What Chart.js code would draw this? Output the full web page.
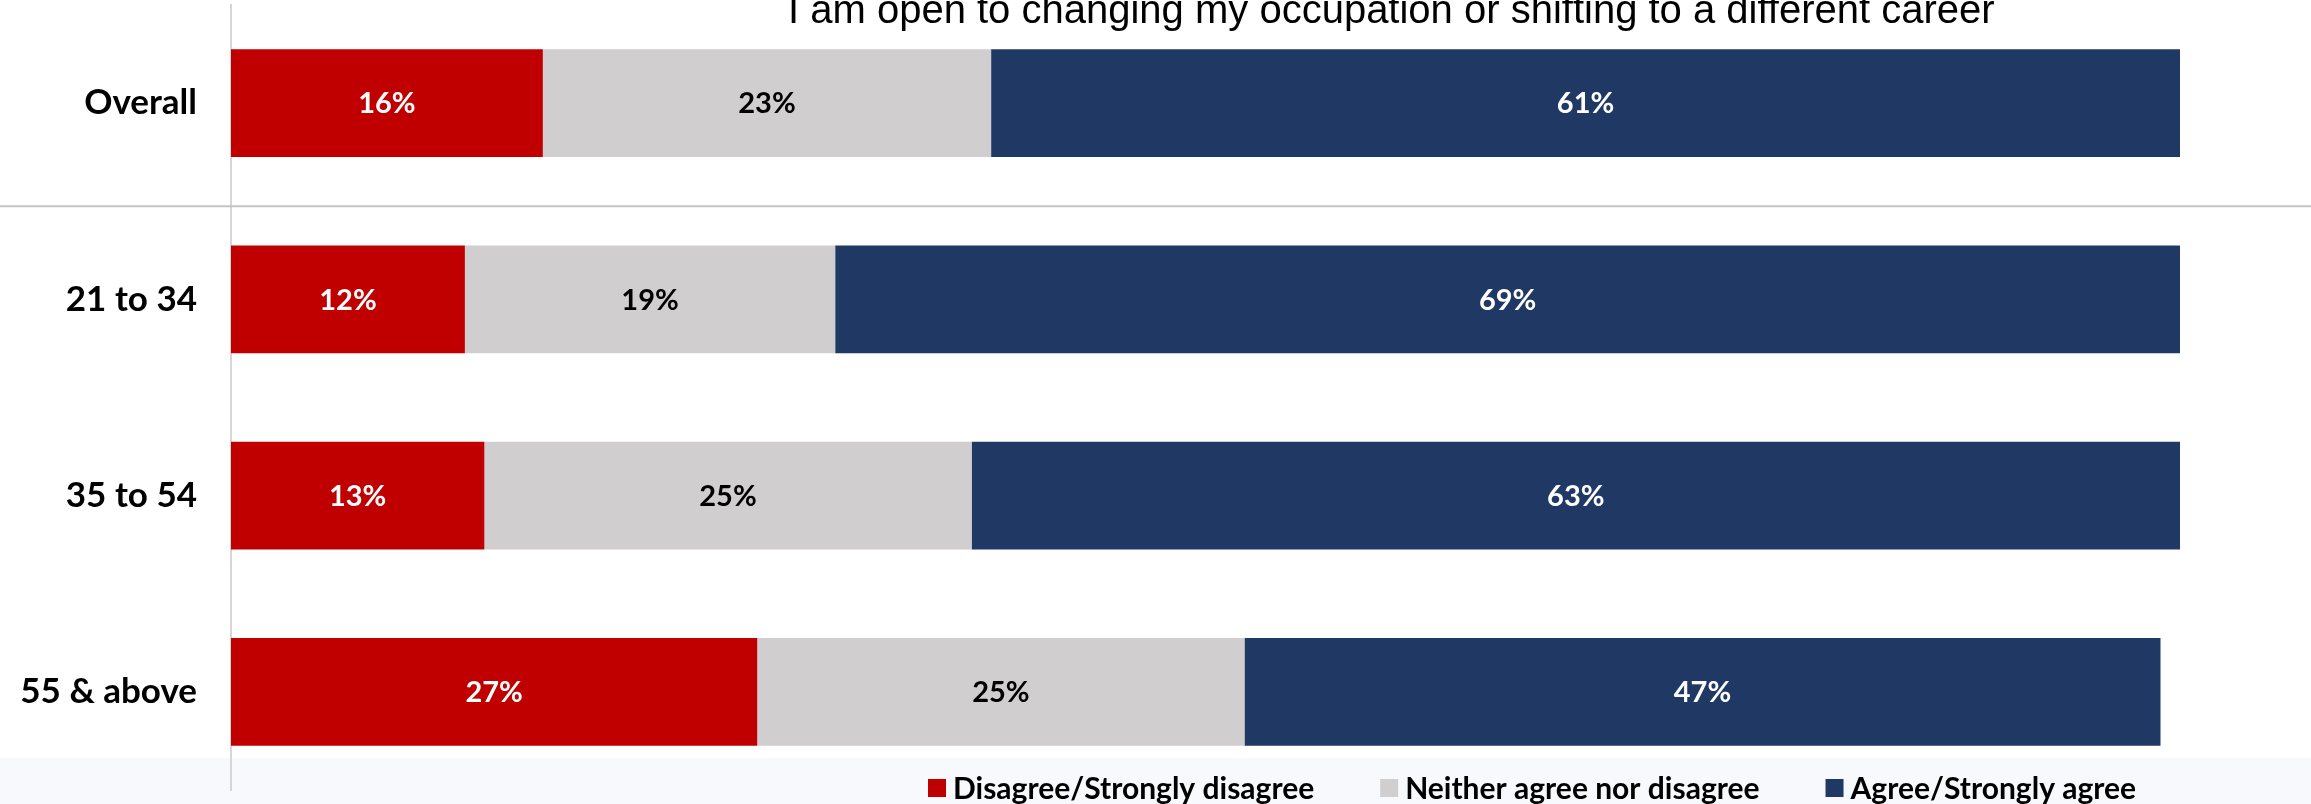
<!DOCTYPE html>
<html>
<head>
<meta charset="utf-8">
<title>Open to changing occupation</title>
<script src="https://cdn.jsdelivr.net/npm/chart.js@4.4.1/dist/chart.umd.min.js"></script>
<style>
  html, body { margin: 0; padding: 0; background: #fff; }
  #chart { display: block; }
</style>
</head>
<body>
<canvas id="chart" width="2311" height="804"></canvas>
<script>
// survey groups and answer shares (%)
const groups = ['Overall', '21 to 34', '35 to 54', '55 & above'];
const disagree = [16, 12, 13, 27];
const neither = [23, 19, 25, 25];
const agree = [61, 69, 63, 47];

const seriesNames = ['Disagree/Strongly disagree', 'Neither agree nor disagree', 'Agree/Strongly agree'];
const seriesColors = ['#c00000', '#d0cece', '#203864'];
const labelColors = ['#ffffff', '#000000', '#ffffff'];

const title = 'I am open to changing my occupation or shifting to a different career';

const LABEL_FONT = 'Lato, "Open Sans", sans-serif';

// pale band behind the legend row
const bandPlugin = {
  id: 'band',
  beforeDraw(chart) {
    const ctx = chart.ctx;
    ctx.save();
    ctx.fillStyle = '#f8f9fc';
    ctx.fillRect(0, 758, chart.width, chart.height - 758);
    ctx.restore();
  }
};

// line separating the overall row from the age groups
const separatorPlugin = {
  id: 'separator',
  afterDatasetsDraw(chart) {
    const y = chart.scales.y;
    const pos = (y.getPixelForValue(0) + y.getPixelForValue(1)) / 2 + 5;
    const ctx = chart.ctx;
    ctx.save();
    ctx.strokeStyle = '#c4c4c4';
    ctx.lineWidth = 2;
    ctx.beginPath();
    ctx.moveTo(0, pos);
    ctx.lineTo(chart.width, pos);
    ctx.stroke();
    ctx.restore();
  }
};

// percentage in the middle of every segment
const valueLabels = {
  id: 'valueLabels',
  afterDatasetsDraw(chart) {
    const ctx = chart.ctx;
    ctx.save();
    ctx.font = 'bold 29px ' + LABEL_FONT;
    ctx.textAlign = 'center';
    ctx.textBaseline = 'middle';
    chart.data.datasets.forEach((ds, i) => {
      const meta = chart.getDatasetMeta(i);
      ctx.fillStyle = labelColors[i];
      meta.data.forEach((bar, j) => {
        const cx = (bar.base + Math.min(bar.x, chart.chartArea.right)) / 2;
        ctx.fillText(ds.data[j] + '%', cx, bar.y + 1);
      });
    });
    ctx.restore();
  }
};

// title line and legend row
const textPlugin = {
  id: 'texts',
  afterDraw(chart) {
    const ctx = chart.ctx;
    ctx.save();
    ctx.fillStyle = '#000';
    ctx.font = '40px "Liberation Sans", Arial, sans-serif';
    ctx.textBaseline = 'alphabetic';
    ctx.textAlign = 'left';
    ctx.fillText(title, 788, 23);

    ctx.font = 'bold 30px ' + LABEL_FONT;
    ctx.textBaseline = 'middle';
    let x = 928;
    const cy = 788;
    chart.data.datasets.forEach((ds) => {
      ctx.fillStyle = ds.backgroundColor;
      ctx.fillRect(x, cy - 9, 18, 18);
      ctx.fillStyle = '#000';
      ctx.fillText(ds.label, x + 25, cy + 1);
      x += 25 + ctx.measureText(ds.label).width + 66;
    });
    ctx.restore();
  }
};

const values = [disagree, neither, agree];

new Chart(document.getElementById('chart'), {
  type: 'bar',
  data: {
    labels: groups,
    datasets: seriesNames.map((name, i) => ({
      label: name,
      data: values[i],
      backgroundColor: seriesColors[i],
      borderWidth: 0,
      barPercentage: 0.55,
      categoryPercentage: 1,
      clip: 0
    }))
  },
  options: {
    indexAxis: 'y',
    responsive: false,
    animation: false,
    layout: {
      padding: { top: 5, right: 131, bottom: 14, left: 0 }
    },
    plugins: {
      legend: { display: false },
      tooltip: { enabled: false }
    },
    scales: {
      x: {
        stacked: true,
        min: 0,
        max: 100,
        display: false
      },
      y: {
        stacked: true,
        afterFit(scale) {
          // labels sit beside the bars, so no vertical room is needed for them
          scale.width = 231;
          scale.paddingTop = 0;
          scale.paddingBottom = 0;
        },
        grid: { display: false, drawTicks: false },
        border: { display: true, color: '#d6d6d6', width: 2 },
        ticks: {
          color: '#000',
          padding: 34,
          font: { family: LABEL_FONT, size: 35, weight: 'bold' }
        }
      }
    }
  },
  plugins: [bandPlugin, separatorPlugin, valueLabels, textPlugin]
});
</script>
</body>
</html>
